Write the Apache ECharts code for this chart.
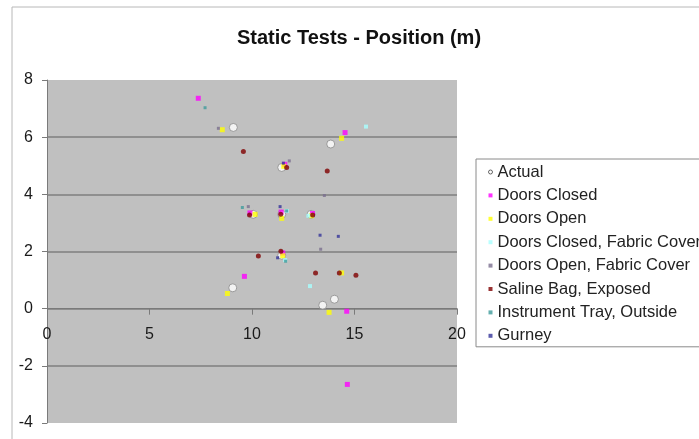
<!DOCTYPE html>
<html>
<head>
<meta charset="utf-8">
<title>Static Tests - Position (m)</title>
<script src="https://cdn.jsdelivr.net/npm/echarts@6/dist/echarts.min.js"></script>
<style>
	html, body { margin: 0; padding: 0; background: #fff; }
	#chart { width: 699px; height: 439px; }
</style>
</head>
<body>
<div id="chart"></div>
<script>
// values, [x, y] in metres
var seriesNames = ['Actual', 'Doors Closed', 'Doors Open', 'Doors Closed, Fabric Cover',
	'Doors Open, Fabric Cover', 'Saline Bag, Exposed', 'Instrument Tray, Outside', 'Gurney'];
var actual = [[9.09, 6.34], [13.84, 5.76], [11.45, 4.94], [10.06, 3.30], [11.45, 3.30],
	[12.88, 3.30], [11.45, 1.87], [9.06, 0.73], [14.02, 0.33], [13.45, 0.12]];
var doorsClosed = [[7.38, 7.36], [14.54, 6.16], [11.6, 5.05], [9.90, 3.35], [11.42, 3.38],
	[12.95, 3.33], [11.5, 1.95], [9.63, 1.13], [14.62, -0.09], [14.65, -2.65]];
var doorsOpen = [[8.55, 6.26], [14.37, 5.96], [11.55, 4.98], [10.15, 3.30], [11.45, 3.16],
	[12.9, 3.25], [11.5, 1.85], [8.80, 0.53], [14.37, 1.25], [13.76, -0.13]];
var closedFabric = [[15.56, 6.37], [11.7, 3.42], [12.75, 3.25], [11.62, 1.7], [12.83, 0.79]];
var openFabric = [[8.36, 6.31], [11.82, 5.17], [13.53, 3.96], [9.82, 3.57], [13.35, 2.08]];
var salineBag = [[9.58, 5.50], [11.69, 4.94], [13.67, 4.82], [9.88, 3.28], [11.40, 3.30],
	[12.96, 3.28], [11.41, 2.01], [10.31, 1.84], [13.1, 1.25], [15.07, 1.17], [14.26, 1.25]];
var instrumentTray = [[7.71, 7.03], [9.53, 3.54], [11.64, 1.66], [11.69, 3.42]];
var gurney = [[11.25, 1.78], [11.37, 3.57], [13.32, 2.57], [14.21, 2.53], [11.53, 5.09]];
var xTicks = { min: 0, max: 20, interval: 5 };
var yTicks = { min: -4, max: 8, interval: 2 };

var seriesData = [actual, doorsClosed, doorsOpen, closedFabric, openFabric, salineBag, instrumentTray, gurney];
var colors = ['#ffffff', '#ff00ff', '#ffff00', '#a8ffff', '#7a6f8f', '#800000', '#3f9b9b', '#333399'];
var sizes = [8, 5, 5, 4, 3, 5, 3, 3];
var symbols = ['circle', 'rect', 'rect', 'rect', 'rect', 'circle', 'rect', 'rect'];

var series = [];
for (var i = 0; i < seriesNames.length; i++) {
	series.push({
		name: seriesNames[i],
		type: 'scatter',
		data: seriesData[i],
		symbol: symbols[i],
		symbolSize: sizes[i],
		itemStyle: i == 0 ? { color: '#ffffff', borderColor: '#8a8a8a', borderWidth: 1 } : { color: colors[i] },
		emphasis: { disabled: true }
	});
}

var legendData = seriesNames.map(function(n, i) {
	var d = { name: n, icon: i == 0 ? 'circle' : 'rect' };
	if (i == 0) {
		d.itemStyle = { color: '#ffffff', borderColor: '#444', borderWidth: 1 };
	}
	return d;
});

// grid box, the x axis is pulled up to sit on y = 0
var gridTop = 80, gridBottom = 16;
var gridH = 439 - gridTop - gridBottom;
var zeroOffset = -gridH * (0 - yTicks.min) / (yTicks.max - yTicks.min);

var chart = echarts.init(document.getElementById('chart'), null, { renderer: 'canvas' });
chart.setOption({
	animation: false,
	backgroundColor: '#ffffff',
	textStyle: { fontFamily: 'Liberation Sans, Arial, sans-serif' },
	title: {
		text: 'Static Tests - Position (m)',
		left: 354,
		top: 23,
		textAlign: 'center',
		textStyle: { fontSize: 20, fontWeight: 'bold', color: '#111', fontFamily: 'Liberation Sans, Arial, sans-serif' }
	},
	graphic: [{
		type: 'rect',
		shape: { x: 12, y: 7, width: 800, height: 500 },
		style: { fill: 'none', stroke: '#b8b8b8', lineWidth: 1 },
		silent: true,
		z: -1
	}],
	legend: {
		orient: 'vertical',
		left: 476,
		top: 159,
		data: legendData,
		itemWidth: 4,
		itemHeight: 4,
		itemGap: 5.4,
		padding: [4, 10, 2, 12],
		borderColor: '#8a8a8a',
		borderWidth: 1,
		backgroundColor: '#ffffff',
		selectedMode: false,
		textStyle: { fontSize: 16.5, lineHeight: 18, color: '#222', fontFamily: 'Liberation Sans, Arial, sans-serif' }
	},
	grid: {
		left: 47,
		right: 242,
		top: gridTop,
		bottom: gridBottom,
		show: true,
		backgroundColor: '#c0c0c0',
		borderWidth: 0
	},
	xAxis: {
		type: 'value',
		min: xTicks.min,
		max: xTicks.max,
		interval: xTicks.interval,
		offset: zeroOffset,
		axisLine: { show: true, onZero: false, lineStyle: { color: '#7a7a7a', width: 1 } },
		axisTick: { show: true, length: 6, lineStyle: { color: '#7a7a7a' } },
		axisLabel: { margin: 18, fontSize: 16, color: '#1a1a1a' },
		splitLine: { show: false }
	},
	yAxis: {
		type: 'value',
		min: yTicks.min,
		max: yTicks.max,
		interval: yTicks.interval,
		axisLine: { show: true, onZero: false, lineStyle: { color: '#7a7a7a', width: 1 } },
		axisTick: { show: true, length: 5, lineStyle: { color: '#7a7a7a' } },
		axisLabel: { margin: 14, fontSize: 16, color: '#1a1a1a' },
		splitLine: {
			show: true,
			lineStyle: {
				color: ['rgba(0,0,0,0)', '#7f7f7f', '#7f7f7f', '#7f7f7f', '#7f7f7f', '#7f7f7f', 'rgba(0,0,0,0)'],
				width: 1.5
			}
		}
	},
	series: series
});
</script>
</body>
</html>
